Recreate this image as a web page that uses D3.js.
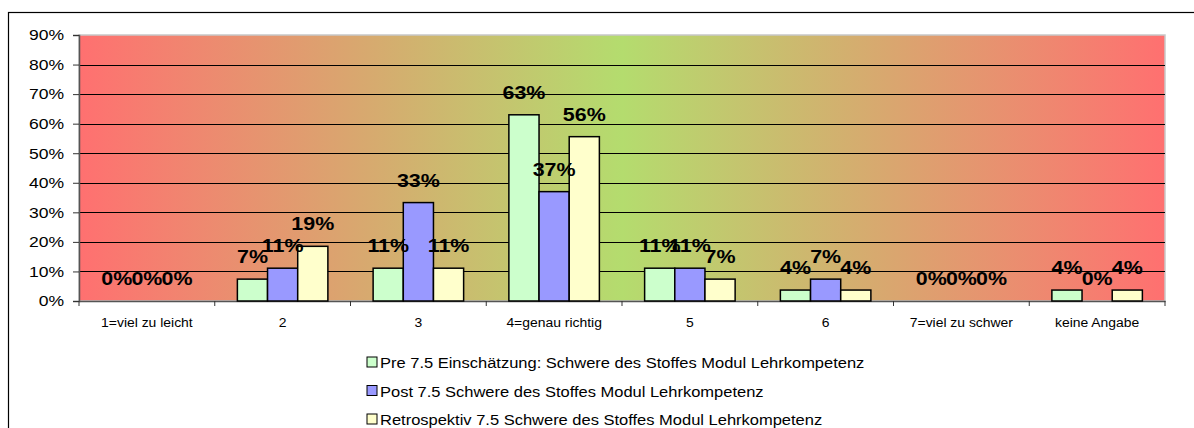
<!DOCTYPE html>
<html>
<head>
<meta charset="utf-8">
<script src="https://cdn.jsdelivr.net/npm/d3@7"></script>
<style>
  body { margin: 0; background: #fff; }
  svg { display: block; font-family: Arial, "Liberation Sans", sans-serif; }
</style>
</head>
<body>
<div id="chart"></div>
<script>
const categories = ["1=viel zu leicht", "2", "3", "4=genau richtig", "5", "6", "7=viel zu schwer", "keine Angabe"];
const seriesNames = [
  "Pre 7.5 Einschätzung: Schwere des Stoffes Modul Lehrkompetenz",
  "Post 7.5 Schwere des Stoffes Modul Lehrkompetenz",
  "Retrospektiv 7.5 Schwere des Stoffes Modul Lehrkompetenz"
];
const preValues = [0, 7.4, 11.1, 63.0, 11.1, 3.7, 0, 3.7];
const postValues = [0, 11.1, 33.3, 37.0, 11.1, 7.4, 0, 0];
const retroValues = [0, 18.5, 11.1, 55.6, 7.4, 3.7, 0, 3.7];
const seriesColors = ["#CCFFCC", "#9999FF", "#FFFFCC"];
const yTicks = [0, 10, 20, 30, 40, 50, 60, 70, 80, 90];

const width = 1194;
const height = 428;
const plot = { left: 79, right: 1165, top: 35, bottom: 301 };

// the original picture is stretched sideways a bit
function stretch(sel, s) {
  sel.each(function () {
    const t = d3.select(this);
    const x = +t.attr("x") || 0;
    t.attr("x", 0).attr("transform", "translate(" + x + ",0) scale(" + s + ",1)");
  });
}

const svg = d3.select("#chart").append("svg")
  .attr("width", width).attr("height", height);

// outer chart frame
svg.append("rect")
  .attr("x", 8.5).attr("y", 12.5)
  .attr("width", 1200).attr("height", 440)
  .attr("fill", "#fff").attr("stroke", "#000").attr("stroke-width", 1.2);

// plot background gradient red -> green -> red
const grad = svg.append("defs").append("linearGradient")
  .attr("id", "bg").attr("x1", "0%").attr("x2", "100%").attr("y1", "0%").attr("y2", "0%");
grad.append("stop").attr("offset", "0%").attr("stop-color", "#FF7070");
grad.append("stop").attr("offset", "50%").attr("stop-color", "#B4DC6E");
grad.append("stop").attr("offset", "100%").attr("stop-color", "#FF7070");

const x0 = d3.scaleBand().domain(categories).range([plot.left, plot.right]).paddingInner(0).paddingOuter(0);
const series = [preValues, postValues, retroValues];
const x1 = d3.scaleBand().domain([0, 1, 2])
  .range([0, x0.bandwidth()]).paddingInner(0).paddingOuter(0.75);
const y = d3.scaleLinear().domain([0, 90]).range([plot.bottom, plot.top]);

svg.append("rect")
  .attr("x", plot.left).attr("y", plot.top)
  .attr("width", plot.right - plot.left).attr("height", plot.bottom - plot.top)
  .attr("fill", "url(#bg)").attr("stroke", "#C8C8C8").attr("stroke-width", 1.5);

// gridlines
svg.append("g")
  .selectAll("line")
  .data(yTicks.filter(d => d > 0 && d < 90))
  .enter().append("line")
  .attr("x1", plot.left).attr("x2", plot.right)
  .attr("y1", d => Math.round(y(d)) + 0.5).attr("y2", d => Math.round(y(d)) + 0.5)
  .attr("stroke", "#000").attr("stroke-width", 1);

// y axis
const yAxis = svg.append("g")
  .attr("transform", "translate(" + plot.left + ",0)")
  .call(d3.axisLeft(y).tickValues(yTicks).tickFormat(d => d + "%").tickSize(6).tickPadding(9));
yAxis.select(".domain").attr("stroke", "#555").attr("stroke-width", 1.5);
yAxis.selectAll(".tick line").attr("stroke", "#333");
yAxis.selectAll("text").attr("font-size", 15).attr("fill", "#000")
  .attr("font-family", "Arial, 'Liberation Sans', sans-serif");
stretch(yAxis.selectAll("text"), 1.17);

// x axis
const xAxis = svg.append("g")
  .attr("transform", "translate(0," + plot.bottom + ")")
  .call(d3.axisBottom(x0).tickSize(0).tickPadding(17));
xAxis.select(".domain").attr("stroke", "#555").attr("stroke-width", 1.5);
xAxis.selectAll("text").attr("font-size", 12).attr("fill", "#000")
  .attr("font-family", "Arial, 'Liberation Sans', sans-serif");
stretch(xAxis.selectAll("text"), 1.16);
// category boundary ticks
svg.append("g")
  .selectAll("line")
  .data(categories.concat([null]))
  .enter().append("line")
  .attr("x1", (d, i) => plot.left + i * x0.step())
  .attr("x2", (d, i) => plot.left + i * x0.step())
  .attr("y1", plot.bottom).attr("y2", plot.bottom + 5)
  .attr("stroke", "#333");

// bars
const groups = svg.append("g")
  .selectAll("g")
  .data(categories)
  .enter().append("g")
  .attr("transform", d => "translate(" + x0(d) + ",0)");

groups.selectAll("rect")
  .data((d, i) => series.map((s, k) => ({ k, v: s[i] })))
  .enter().append("rect")
  .filter(d => d.v > 0)
  .attr("x", d => x1(d.k))
  .attr("y", d => y(d.v))
  .attr("width", x1.bandwidth())
  .attr("height", d => y(0) - y(d.v))
  .attr("fill", d => seriesColors[d.k])
  .attr("stroke", "#000").attr("stroke-width", 1.5);

// data labels
const labels = groups.selectAll("text")
  .data((d, i) => series.map((s, k) => ({ k, v: s[i] })))
  .enter().append("text")
  .attr("x", d => x1(d.k) + x1.bandwidth() / 2)
  .attr("y", d => y(d.v) - 16)
  .attr("text-anchor", "middle")
  .attr("font-size", 18).attr("font-weight", "bold").attr("fill", "#000")
  .text(d => Math.round(d.v) + "%");
stretch(labels, 1.19);

// legend
const legend = svg.append("g")
  .selectAll("g")
  .data(seriesNames)
  .enter().append("g")
  .attr("transform", (d, i) => "translate(367," + (357 + i * 28.5) + ")");
legend.append("rect")
  .attr("width", 10).attr("height", 10)
  .attr("fill", (d, i) => seriesColors[i])
  .attr("stroke", "#000").attr("stroke-width", 1);
const legendText = legend.append("text")
  .attr("x", 13).attr("y", 11)
  .attr("font-size", 15).attr("fill", "#000")
  .text(d => d);
stretch(legendText, 1.1);
</script>
</body>
</html>
